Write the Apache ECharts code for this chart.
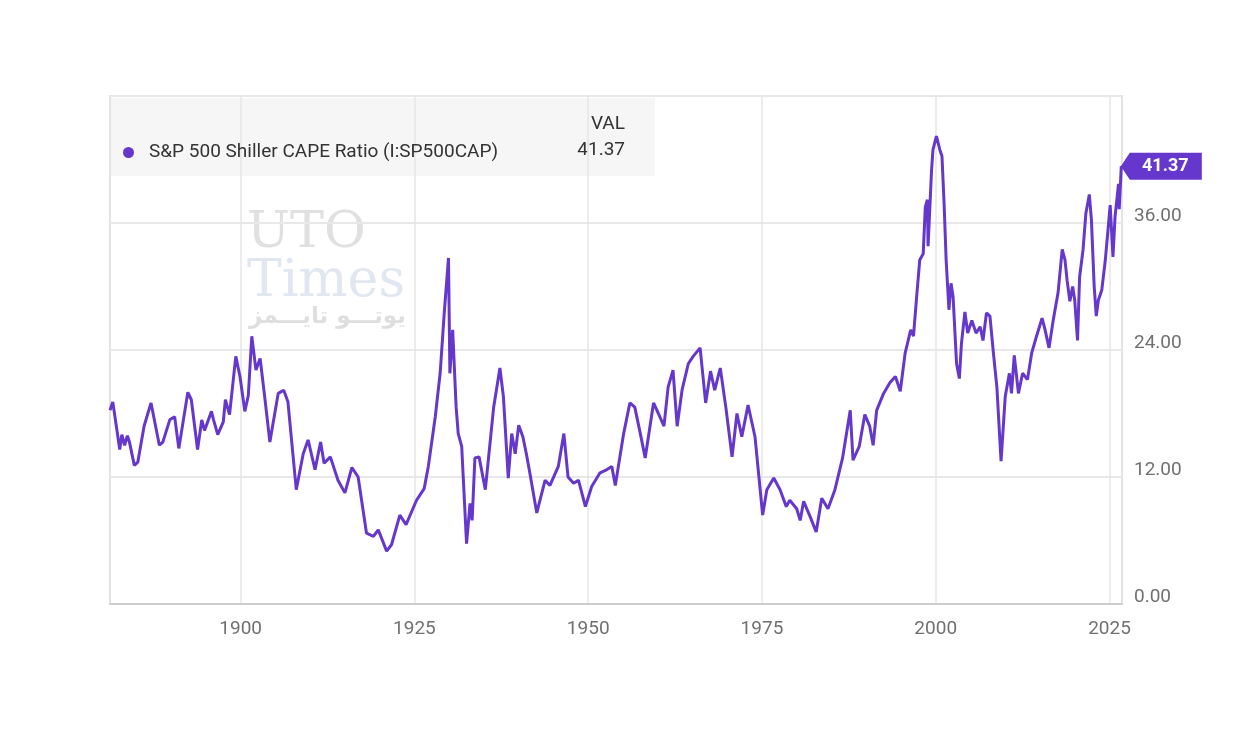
<!DOCTYPE html>
<html>
<head>
<meta charset="utf-8">
<script src="https://cdn.jsdelivr.net/npm/echarts@6/dist/echarts.min.js"></script>
<style>
html,body{margin:0;padding:0;background:#fff;}
#chart{width:1250px;height:750px;}
</style>
</head>
<body>
<div id="chart"></div>
<script>
const seriesName = 'S&P 500 Shiller CAPE Ratio (I:SP500CAP)';
const xTickYears = [1900, 1925, 1950, 1975, 2000, 2025];
const yTicks = [0, 12, 24, 36, 48];
const years = [
1881.2,1881.6,1882.6,1882.9,1883.3,1883.7,1884.0,1884.7,1885.2,1886.1,1887.1,1887.4,1888.3,1888.8,1889.8,1890.5,1891.1,1892.4,1892.9,1893.8,
1894.4,1894.8,1895.8,1896.1,1896.7,1897.5,1897.8,1898.4,1899.3,1899.9,1900.6,1901.1,1901.6,1902.2,1902.8,1903.4,1904.2,1905.4,1906.2,1906.8,
1908.0,1909.0,1909.7,1910.7,1911.5,1912.0,1912.9,1914.0,1915.0,1916.0,1916.9,1918.1,1919.1,1919.8,1921.0,1921.7,1922.9,1923.8,1925.3,1926.4,
1927.0,1928.0,1928.7,1929.3,1929.9,1930.1,1930.5,1931.0,1931.3,1931.8,1932.5,1933.0,1933.3,1933.7,1934.3,1935.2,1936.4,1937.3,1937.8,1938.5,
1939.0,1939.5,1940.0,1940.6,1941.1,1941.6,1942.6,1943.8,1944.5,1945.7,1946.5,1947.1,1947.9,1948.6,1949.6,1950.5,1951.7,1952.7,1953.4,1953.9,
1955.1,1956.0,1956.7,1957.5,1958.2,1959.4,1960.1,1960.9,1961.5,1962.2,1962.8,1963.5,1964.4,1965.1,1966.1,1966.9,1967.6,1968.2,1969.0,1969.8,
1970.7,1971.4,1972.1,1973.0,1974.0,1975.1,1975.7,1976.7,1977.6,1978.5,1979.0,1980.0,1980.5,1981.0,1981.9,1982.8,1983.6,1984.5,1985.5,1986.6,
1987.7,1988.1,1989.0,1989.8,1990.5,1991.0,1991.5,1992.5,1993.4,1994.2,1994.9,1995.6,1996.4,1996.8,1997.3,1997.7,1998.2,1998.5,1998.8,1998.9,
1999.4,1999.6,2000.1,2000.6,2000.9,2001.2,2001.5,2001.9,2002.2,2002.5,2003.0,2003.4,2003.7,2004.2,2004.6,2005.2,2005.8,2006.4,2006.8,2007.3,
2007.8,2008.3,2008.8,2009.4,2010.0,2010.6,2010.9,2011.3,2011.9,2012.5,2013.2,2013.8,2014.5,2015.3,2015.7,2016.3,2016.9,2017.6,2018.2,2018.6,
2018.9,2019.3,2019.7,2020.0,2020.4,2020.7,2021.2,2021.6,2022.1,2022.4,2022.8,2023.1,2023.4,2023.9,2024.4,2025.1,2025.5,2025.8,2026.3,2026.4,
2026.7
];
const cape = [
18.3,19.1,14.6,16.0,15.0,15.9,15.3,13.1,13.4,16.8,19.0,18.0,15.0,15.3,17.4,17.7,14.7,20.0,19.3,14.6,
17.4,16.4,18.2,17.4,16.0,17.2,19.3,17.9,23.4,21.5,18.2,19.7,25.3,22.1,23.2,19.9,15.3,19.9,20.2,19.1,
10.8,14.2,15.5,12.7,15.3,13.3,13.9,11.7,10.5,12.9,12.0,6.7,6.4,7.0,5.0,5.6,8.4,7.5,9.8,10.9,
13.0,17.7,21.8,27.6,32.7,21.8,25.9,18.6,16.1,14.9,5.7,9.5,7.9,13.8,13.9,10.8,18.6,22.3,19.6,11.9,
16.1,14.2,16.9,15.8,14.2,12.4,8.6,11.7,11.2,13.0,16.1,12.0,11.4,11.7,9.2,11.1,12.4,12.7,13.0,11.2,
16.1,19.0,18.6,16.1,13.8,19.0,18.0,16.8,20.5,22.1,16.8,20.2,22.7,23.4,24.2,19.0,22.0,20.2,22.3,18.6,
13.9,18.0,15.8,18.8,15.8,8.4,10.8,11.9,10.8,9.2,9.8,9.0,7.9,9.7,8.3,6.8,10.0,9.0,10.8,13.8,
18.3,13.6,14.9,17.9,16.8,15.0,18.3,19.9,20.9,21.5,20.1,23.7,25.9,25.3,29.4,32.5,33.1,37.5,38.2,33.8,
41.0,42.9,44.2,42.9,42.3,37.9,32.5,27.8,30.3,29.0,22.7,21.3,24.6,27.6,25.6,26.8,25.6,26.2,24.9,27.5,
27.2,23.7,20.5,13.5,19.6,21.8,19.9,23.5,19.9,21.8,21.2,23.7,25.3,27.0,26.0,24.2,26.8,29.4,33.5,32.5,
30.6,28.6,30.0,28.7,24.9,30.9,33.5,36.9,38.7,36.3,30.0,27.2,28.7,29.7,32.5,37.7,32.8,36.6,39.7,37.3,
41.37
];

const purple = '#6537cc';
const lineData = years.map((y, i) => [y, cape[i]]);
const last = lineData[lineData.length - 1];
const lastText = last[1].toFixed(2);

const chart = echarts.init(document.getElementById('chart'), null, {renderer: 'canvas'});
const font = 'Roboto, "Noto Sans", sans-serif';

chart.setOption({
  animation: false,
  backgroundColor: '#ffffff',
  grid: {left: 110, right: 128, top: 96, bottom: 146, show: true, borderColor: '#e3e3e3', borderWidth: 2, backgroundColor: 'transparent'},
  legend: {
    left: 118, top: 138, icon: 'circle', itemWidth: 11, itemHeight: 11,
    data: [seriesName],
    textStyle: {color: '#333', fontSize: 19, fontFamily: font, padding: [0, 0, 0, 10]}
  },
  xAxis: {
    type: 'value', min: 1881.2, max: 2026.8,
    axisLine: {show: true, onZero: false, lineStyle: {color: '#cdcdcd', width: 2}},
    axisTick: {show: false, customValues: xTickYears},
    splitLine: {show: true, lineStyle: {color: '#e6e6e6', width: 1.5}},
    axisLabel: {customValues: xTickYears, color: '#707070', fontSize: 19, fontFamily: font, margin: 16, formatter: v => String(v)}
  },
  yAxis: {
    type: 'value', position: 'right', min: 0, max: 48, interval: 12,
    axisLine: {show: false}, axisTick: {show: false},
    splitLine: {show: true, lineStyle: {color: '#e8e8e8', width: 2}},
    axisLabel: {color: '#707070', fontSize: 19, fontFamily: font, margin: 12, verticalAlign: 'bottom', lineHeight: 13,
      formatter: v => v >= 48 ? '' : v.toFixed(2)}
  },
  graphic: [
    {type: 'rect', left: 110, top: 98, shape: {width: 545, height: 78}, style: {fill: 'rgba(0,0,0,0.035)'}, z: -1, silent: true},
    {type: 'text', right: 1250 - 625, top: 115, style: {text: 'VAL', fill: '#333', font: '19px ' + font, textAlign: 'right'}},
    {type: 'text', right: 1250 - 625, top: 141, style: {text: lastText, fill: '#333', font: '19px ' + font, textAlign: 'right'}},
    {type: 'text', left: 247, top: 208, style: {text: 'UTO', fill: '#e0e0e0', font: '51px "DejaVu Serif", serif'}, z: 0, silent: true},
    {type: 'text', left: 247, top: 256, style: {text: 'Times', fill: '#e0e7f1', font: '52px "DejaVu Serif", serif'}, z: 0, silent: true},
    {type: 'text', left: 249, top: 306, style: {text: 'يوتـــو تايـــمز', fill: '#dedede', font: 'bold 23px "DejaVu Sans", sans-serif'}, z: 0, silent: true}
  ],
  series: [{
    name: seriesName, type: 'line', data: lineData, showSymbol: false, symbol: 'circle', symbolSize: 8,
    itemStyle: {color: purple},
    lineStyle: {color: purple, width: 3}, z: 5,
    markPoint: {
      symbol: 'path://M0,13.5 L9,0 L81,0 L81,27 L9,27 Z', symbolSize: [81, 27], symbolOffset: [40, 0],
      itemStyle: {color: purple},
      label: {show: true, position: 'inside', color: '#fff', fontWeight: 'bold', fontSize: 18, fontFamily: font, offset: [4, 0], formatter: () => lastText},
      data: [{coord: last}]
    }
  }]
});
</script>
</body>
</html>
